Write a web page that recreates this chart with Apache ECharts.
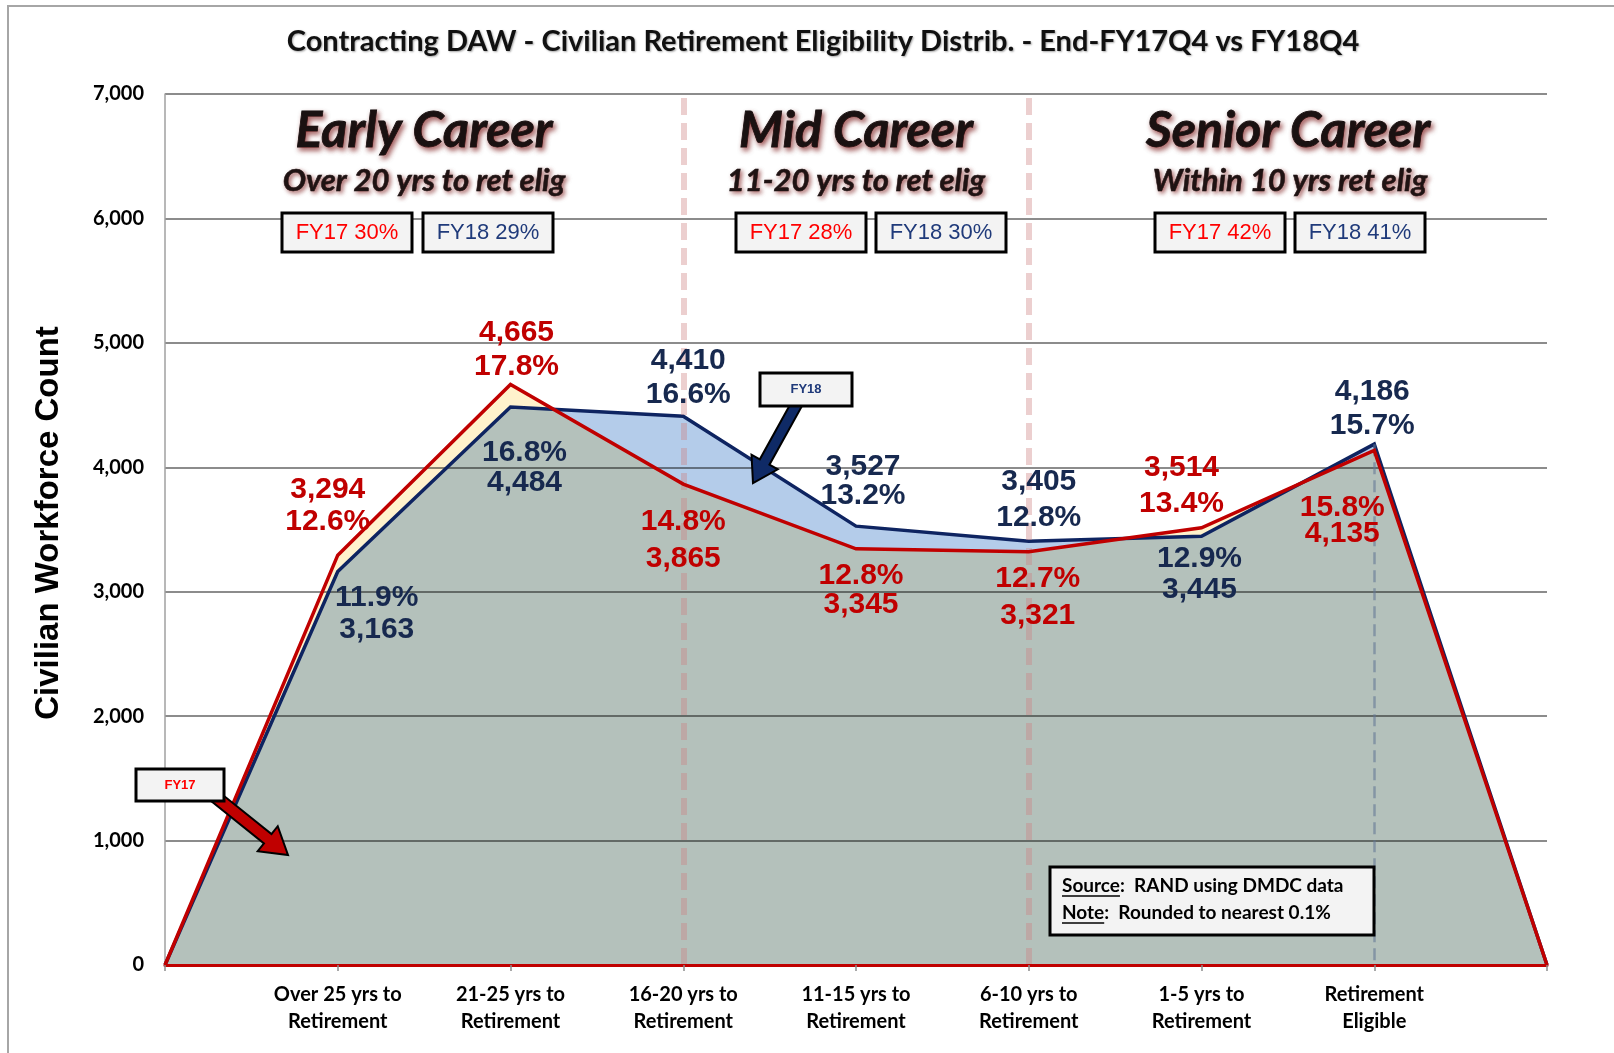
<!DOCTYPE html>
<html><head><meta charset="utf-8">
<script src="https://cdn.jsdelivr.net/npm/echarts@6/dist/echarts.min.js"></script>
<style>html,body{margin:0;padding:0;background:#fff}#c{width:1614px;height:1053px}</style>
</head><body><div id="c"></div>
<script>
// ---------------- data ----------------
const categories = ['', 'Over 25 yrs to\nRetirement', '21-25 yrs to\nRetirement', '16-20 yrs to\nRetirement',
  '11-15 yrs to\nRetirement', '6-10 yrs to\nRetirement', '1-5 yrs to\nRetirement', 'Retirement\nEligible', ''];
const fy17Counts = [0, 3294, 4665, 3865, 3345, 3321, 3514, 4135, 0];
const fy18Counts = [0, 3163, 4484, 4410, 3527, 3405, 3445, 4186, 0];
const fy17Pct = [null, 12.6, 17.8, 14.8, 12.8, 12.7, 13.4, 15.8, null];
const fy18Pct = [null, 11.9, 16.8, 16.6, 13.2, 12.8, 12.9, 15.7, null];
const yMin = 0, yMax = 7000, yStep = 1000;
const groupTitles = ['Early Career', 'Mid Career', 'Senior Career'];
const groupSubtitles = ['Over 20 yrs to ret elig', '11-20 yrs to ret elig', 'Within 10 yrs ret elig'];
const fy17GroupPct = [30, 28, 42];
const fy18GroupPct = [29, 30, 41];
const dividerCats = [3, 5];      // category indexes with dashed dividers
const eligibleCat = 7;

// ---------------- layout (label placement, px) ----------------
const fy17LabelLayout = [null,
  { dx: -10, dy: -49, lh: 32, pctFirst: false },
  { dx: 6, dy: -35, lh: 34, pctFirst: false },
  { dx: 0, dy: 56, lh: 37, pctFirst: true },
  { dx: 5, dy: 41, lh: 29, pctFirst: true },
  { dx: 9, dy: 45, lh: 37, pctFirst: true },
  { dx: -20, dy: -42, lh: 36, pctFirst: false },
  { dx: -32, dy: 70, lh: 26, pctFirst: true }, null];
const fy18LabelLayout = [null,
  { dx: 39, dy: 42, lh: 32, pctFirst: true },
  { dx: 14, dy: 61, lh: 30, pctFirst: true },
  { dx: 5, dy: -39, lh: 34, pctFirst: false },
  { dx: 7, dy: -45, lh: 29, pctFirst: false },
  { dx: 10, dy: -42, lh: 36, pctFirst: false },
  { dx: -2, dy: 38, lh: 31, pctFirst: true },
  { dx: -2, dy: -35, lh: 34, pctFirst: false }, null];

const RED = '#C00000', NAVY = '#0E2461', LBL_NAVY = '#17294F';
const FILL18 = '#B4CCEA', FILL17 = '#FFF2CC';
const fmt = v => v.toLocaleString('en-US');

function areaRenderer(values, fill) {
  return function (params, api) {
    if (params.dataIndex !== 0) return null;
    const pts = values.map((v, i) => api.coord([i, v]));
    return { type: 'polygon', silent: true, shape: { points: pts }, style: { fill: fill, blend: 'multiply' } };
  };
}

function labelSeries(counts, pcts, layout, color) {
  const data = [];
  for (let i = 0; i < counts.length; i++) {
    if (!layout[i]) continue;
    data.push({ value: [i, counts[i]], label: { offset: [layout[i].dx, layout[i].dy], lineHeight: layout[i].lh } });
  }
  return {
    type: 'scatter', symbolSize: 1, z: 6, silent: true,
    itemStyle: { color: 'rgba(0,0,0,0)', opacity: 1 },
    data: data,
    label: {
      show: true, position: 'inside', align: 'center', verticalAlign: 'middle', opacity: 1,
      fontFamily: 'Liberation Sans', fontWeight: 'bold', fontSize: 30, color: color,
      formatter: p => {
        const i = p.value[0];
        const c = fmt(counts[i]), pc = pcts[i].toFixed(1) + '%';
        return layout[i].pctFirst ? pc + '\n' + c : c + '\n' + pc;
      }
    }
  };
}

function blockArrow(tail, tip, sw, hw, hl) {
  const dx = tip[0] - tail[0], dy = tip[1] - tail[1];
  const L = Math.hypot(dx, dy), ux = dx / L, uy = dy / L, nx = -uy, ny = ux;
  const b = [tip[0] - ux * hl, tip[1] - uy * hl];
  return [
    [tail[0] + nx * sw / 2, tail[1] + ny * sw / 2],
    [b[0] + nx * sw / 2, b[1] + ny * sw / 2],
    [b[0] + nx * hw / 2, b[1] + ny * hw / 2],
    tip,
    [b[0] - nx * hw / 2, b[1] - ny * hw / 2],
    [b[0] - nx * sw / 2, b[1] - ny * sw / 2],
    [tail[0] - nx * sw / 2, tail[1] - ny * sw / 2]
  ];
}

function box(x, y, w, h, text, color, font, z) {
  return [
    { type: 'rect', z: z, silent: true, shape: { x: x, y: y, width: w, height: h },
      style: { fill: '#F3F3F3', stroke: '#000', lineWidth: 3 } },
    { type: 'text', z: z + 1, silent: true, x: x + w / 2, y: y + h / 2,
      style: { text: text, fill: color, font: font, align: 'center', verticalAlign: 'middle' } }
  ];
}

const measure = (txt, font) => {
  const ctx = document.createElement('canvas').getContext('2d');
  ctx.font = font; return ctx.measureText(txt).width;
};

// -------------- graphics --------------
const graphics = [];
graphics.push({ type: 'rect', silent: true, z: -10, shape: { x: 8, y: 6, width: 1700, height: 1100 },
  style: { fill: 'none', stroke: '#A6A6A6', lineWidth: 2 } });
graphics.push({ type: 'text', silent: true, x: 823, y: 42,
  style: { text: 'Contracting DAW - Civilian Retirement Eligibility Distrib. - End-FY17Q4 vs FY18Q4',
    font: 'bold 29px Lato', fill: '#111', align: 'center', verticalAlign: 'middle',
    textShadowColor: 'rgba(0,0,0,0.35)', textShadowBlur: 2, textShadowOffsetX: 1, textShadowOffsetY: 1 } });
graphics.push({ type: 'text', silent: true, x: 49, y: 523, rotation: Math.PI / 2,
  style: { text: 'Civilian Workforce Count', font: 'bold 33px "Liberation Sans"', fill: '#000',
    align: 'center', verticalAlign: 'middle' } });

const groupCenters = [424, 856, 1288];
groupTitles.forEach((t, k) => {
  graphics.push({ type: 'text', silent: true, z: 5, x: groupCenters[k], y: 131,
    style: { text: t, font: 'italic bold 50px Lato', fill: '#1a1111', align: 'center', verticalAlign: 'middle',
      stroke: '#000', lineWidth: 0.8,
      textShadowColor: 'rgba(120,20,20,0.7)', textShadowBlur: 5, textShadowOffsetX: 2, textShadowOffsetY: 3 } });
  graphics.push({ type: 'text', silent: true, z: 5, x: groupCenters[k] + (k === 2 ? 2 : 0), y: 181,
    style: { text: groupSubtitles[k], font: 'italic bold 31px Lato', fill: '#1f1313', align: 'center', verticalAlign: 'middle',
      stroke: '#000', lineWidth: 0.5,
      textShadowColor: 'rgba(120,20,20,0.65)', textShadowBlur: 4, textShadowOffsetX: 2, textShadowOffsetY: 2 } });
});
const boxX17 = [282, 736, 1155], boxX18 = [423, 876, 1295];
for (let k = 0; k < 3; k++) {
  graphics.push(...box(boxX17[k], 213, 130, 39, 'FY17 ' + fy17GroupPct[k] + '%', '#FF0000', '22px "Liberation Sans"', 20));
  graphics.push(...box(boxX18[k], 213, 130, 39, 'FY18 ' + fy18GroupPct[k] + '%', '#1F3A7A', '22px "Liberation Sans"', 20));
}
// callouts
graphics.push({ type: 'polygon', silent: true, z: 20, shape: { points: blockArrow([799, 400], [753, 483], 11, 30, 24) },
  style: { fill: '#0F2A66', stroke: '#000', lineWidth: 2, lineJoin: 'miter' } });
graphics.push(...box(760, 373, 92, 33, 'FY18', '#1F3A7A', 'bold 13px "Liberation Sans"', 22));
graphics.push({ type: 'polygon', silent: true, z: 20, shape: { points: blockArrow([212, 794], [288, 855], 12, 32, 26) },
  style: { fill: RED, stroke: '#000', lineWidth: 2, lineJoin: 'miter' } });
graphics.push(...box(136, 769, 88, 32, 'FY17', '#FF0000', 'bold 13px "Liberation Sans"', 22));
// source box
const srcFont = 'bold 19px Lato';
graphics.push({ type: 'rect', silent: true, z: 20, shape: { x: 1050, y: 867, width: 324, height: 68 },
  style: { fill: '#F3F3F3', stroke: '#000', lineWidth: 3 } });
[['Source', ':  RAND using DMDC data', 886], ['Note', ':  Rounded to nearest 0.1%', 913]].forEach(([a, b, y]) => {
  graphics.push({ type: 'text', silent: true, z: 21, x: 1062, y: y,
    style: { text: a + b, font: srcFont, fill: '#000', align: 'left', verticalAlign: 'middle' } });
  const w = measure(a, srcFont);
  graphics.push({ type: 'line', silent: true, z: 21, shape: { x1: 1062, y1: y + 10, x2: 1062 + w, y2: y + 10 },
    style: { stroke: '#000', lineWidth: 1.5 } });
});

const chart = echarts.init(document.getElementById('c'));
chart.setOption({
  backgroundColor: '#fff',
  animation: false,
  grid: { left: 165, right: 67, top: 94, bottom: 88 },
  xAxis: {
    type: 'category', data: categories, boundaryGap: false, z: 8,
    axisLine: { show: true, lineStyle: { color: RED, width: 3 } },
    axisTick: { show: true, interval: 0, length: 6, lineStyle: { color: '#8C8C8C', width: 1.5 } },
    axisLabel: { interval: 0, margin: 16, fontFamily: 'Lato', fontWeight: 'bold', fontSize: 20,
      lineHeight: 27, color: '#000' },
    splitLine: { show: false }
  },
  yAxis: {
    type: 'value', min: yMin, max: yMax, interval: yStep,
    axisLine: { show: true, lineStyle: { color: '#A0A0A0', width: 1.5 } },
    axisTick: { show: false },
    axisLabel: { margin: 21, fontFamily: 'Lato', fontWeight: 'bold', fontSize: 20, color: '#000', formatter: fmt },
    splitLine: { show: true, lineStyle: { color: '#8C8C8C', width: 2 } }
  },
  graphic: graphics,
  series: [
    { type: 'custom', z: 2, silent: true, renderItem: areaRenderer(fy18Counts, FILL18),
      data: fy18Counts.map((v, i) => [i, v]), encode: { x: 0, y: 1 } },
    { type: 'custom', z: 2, silent: true, renderItem: areaRenderer(fy17Counts, FILL17),
      data: fy17Counts.map((v, i) => [i, v]), encode: { x: 0, y: 1 } },
    { type: 'line', z: 3, silent: true, data: [], symbol: 'none',
      markLine: { silent: true, symbol: 'none', label: { show: false },
        data: [
          ...dividerCats.map(c => ({ xAxis: c, lineStyle: { color: 'rgba(205,130,130,0.38)', width: 6, type: [17, 8] } })),
          [{ coord: [eligibleCat, fy18Counts[eligibleCat]], lineStyle: { color: 'rgba(100,120,150,0.6)', width: 2.5, type: [12, 6] } },
           { coord: [eligibleCat, 0] }]
        ] } },
    { type: 'line', z: 4, silent: true, data: fy18Counts, symbol: 'none',
      lineStyle: { color: NAVY, width: 3.5, join: 'miter' } },
    { type: 'line', z: 5, silent: true, data: fy17Counts, symbol: 'none',
      lineStyle: { color: RED, width: 3.5, join: 'miter' } },
    labelSeries(fy17Counts, fy17Pct, fy17LabelLayout, RED),
    labelSeries(fy18Counts, fy18Pct, fy18LabelLayout, LBL_NAVY)
  ]
});

// make the two area fills combine multiplicatively (overlap -> grey-green)
function applyBlend() {
  const zr = chart.getZr();
  let changed = false;
  zr.storage.getDisplayList(true).forEach(el => {
    const f = el.style && el.style.fill;
    if ((f === FILL17 || f === FILL18) && el.style.blend !== 'multiply') {
      el.style.blend = 'multiply';
      el.markRedraw();
      changed = true;
    }
  });
  if (changed) zr.refreshImmediately();
}
applyBlend();
chart.on('finished', applyBlend);
</script></body></html>
